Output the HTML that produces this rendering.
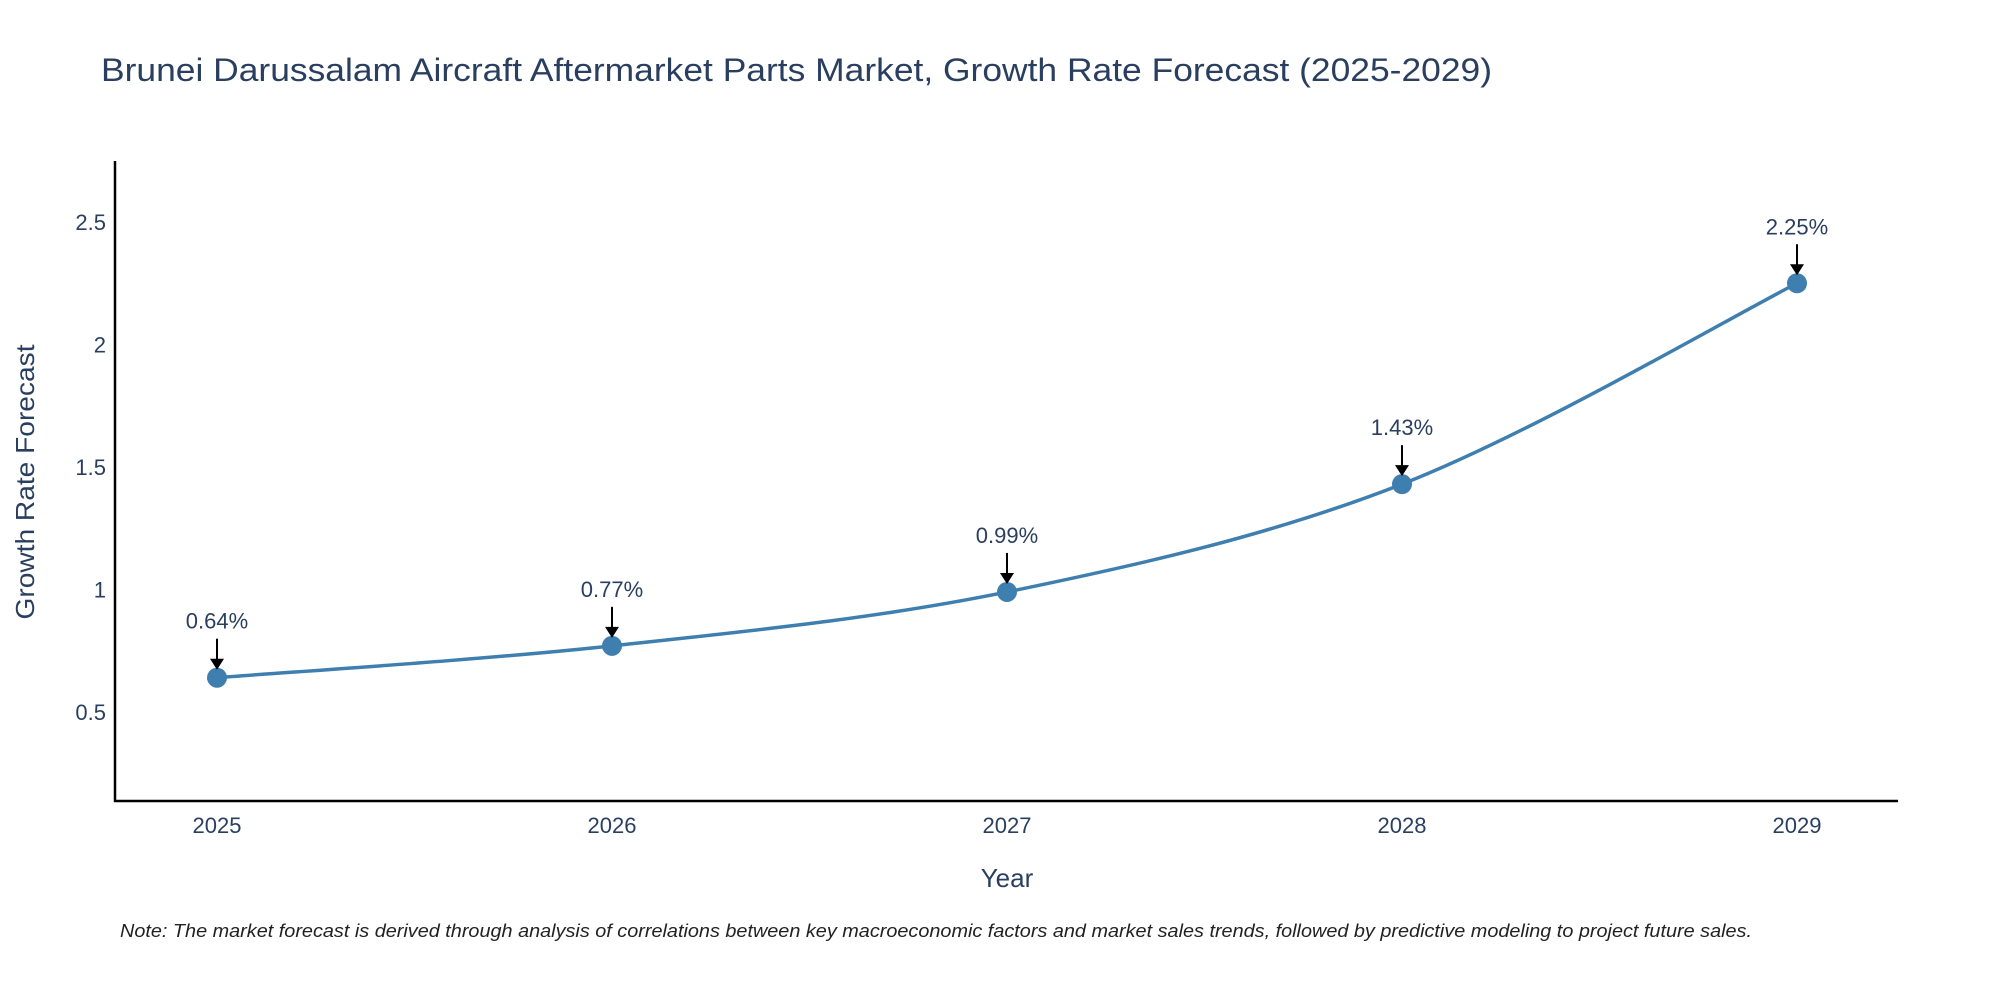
<!DOCTYPE html>
<html><head><meta charset="utf-8"><style>
body{margin:0;background:#fff;}
svg text{font-family:"Liberation Sans",sans-serif;}
</style></head><body>
<svg width="2000" height="1000" xmlns="http://www.w3.org/2000/svg">
<text x="101" y="81" font-size="32" fill="#2a3f5f" textLength="1391" lengthAdjust="spacingAndGlyphs">Brunei Darussalam Aircraft Aftermarket Parts Market, Growth Rate Forecast (2025-2029)</text>
<g id="axes"></g>
<g id="plot"></g>
<text x="1007" y="887" font-size="26" fill="#2a3f5f" text-anchor="middle">Year</text>
<text transform="translate(34,482) rotate(-90)" font-size="26" fill="#2a3f5f" text-anchor="middle" textLength="275" lengthAdjust="spacingAndGlyphs">Growth Rate Forecast</text>
<text x="120" y="937" font-size="18" font-style="italic" fill="#222" textLength="1632" lengthAdjust="spacingAndGlyphs">Note: The market forecast is derived through analysis of correlations between key macroeconomic factors and market sales trends, followed by predictive modeling to project future sales.</text>
</svg>
<script>
const years=[2025,2026,2027,2028,2029];
const values=[0.64,0.77,0.99,1.43,2.25];
const labels=["0.64%","0.77%","0.99%","1.43%","2.25%"];
const yTicks=[0.5,1,1.5,2,2.5];
const yTickLabels=["0.5","1","1.5","2","2.5"];
const NS="http://www.w3.org/2000/svg";
const xs=i=>217+i*395;
const ys=v=>712-(v-0.5)*245;
function mk(t,a,p){const e=document.createElementNS(NS,t);for(const k in a)e.setAttribute(k,a[k]);p.appendChild(e);return e;}
const ax=document.getElementById('axes'),pl=document.getElementById('plot');
let e=mk('line',{x1:115,y1:161,x2:115,y2:802,stroke:'#000','stroke-width':2.5},ax);


e=mk('line',{x1:114,y1:801,x2:1898,y2:801,stroke:'#000','stroke-width':2.5},ax);


yTicks.forEach((v,i)=>{const t=mk('text',{x:106,y:ys(v)+8,'font-size':22,fill:'#2a3f5f','text-anchor':'end'},ax);t.textContent=yTickLabels[i];

});
years.forEach((y,i)=>{const t=mk('text',{x:xs(i),y:833,'font-size':22,fill:'#2a3f5f','text-anchor':'middle'},ax);t.textContent=y;

});
const P=values.map((v,i)=>[xs(i),ys(v)]);
let d=`M${P[0][0]},${P[0][1]}`;
for(let i=0;i<P.length-1;i++){const p0=P[Math.max(0,i-1)],p1=P[i],p2=P[i+1],p3=P[Math.min(P.length-1,i+2)];const k=1/6;
d+=` C${p1[0]+(p2[0]-p0[0])*k},${p1[1]+(p2[1]-p0[1])*k} ${p2[0]-(p3[0]-p1[0])*k},${p2[1]-(p3[1]-p1[1])*k} ${p2[0]},${p2[1]}`;}
e=mk('path',{d:d,fill:'none',stroke:'#3f7fb0','stroke-width':3.5},pl);


P.forEach((p,i)=>{
const c=mk('circle',{cx:p[0],cy:p[1],r:10,fill:'#3f7fb0'},pl);


const l=mk('line',{x1:p[0],y1:p[1]-39,x2:p[0],y2:p[1]-18,stroke:'#000','stroke-width':2},pl);


const h=mk('path',{d:`M${p[0]-7},${p[1]-19} L${p[0]+7},${p[1]-19} L${p[0]},${p[1]-8} Z`,fill:'#000'},pl);


const t=mk('text',{x:p[0],y:p[1]-49,'font-size':22,fill:'#2a3f5f','text-anchor':'middle'},pl);t.textContent=labels[i];


});
</script>
</body></html>
